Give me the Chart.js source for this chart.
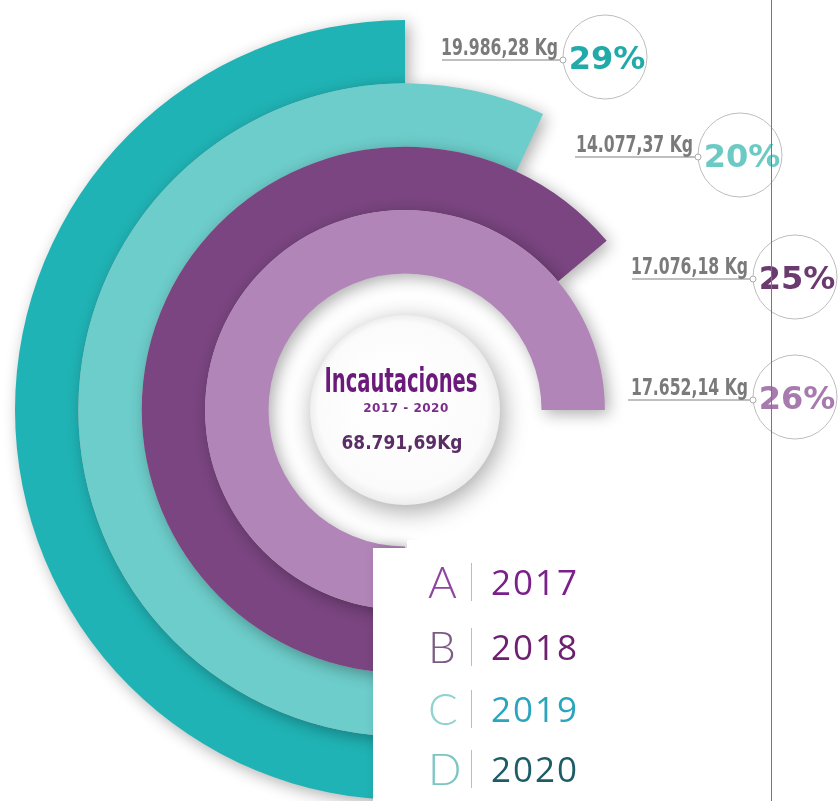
<!DOCTYPE html>
<html>
<head>
<meta charset="utf-8">
<title>Incautaciones 2017 - 2020</title>
<script src="https://cdn.jsdelivr.net/npm/chart.js@4/dist/chart.umd.min.js"></script>
<style>
    html, body { margin: 0; padding: 0; background: #fff; }
    #wrap { width: 838px; height: 801px; position: relative; }
</style>
</head>
<body>
<div id="wrap"><canvas id="rings" width="838" height="801"></canvas></div>
<script>
// Radial rings: one ring per year, outermost = 2020

const years = ['2017', '2018', '2019', '2020'];
const letters = ['A', 'B', 'C', 'D'];
const kilograms = [17652.14, 17076.18, 14077.37, 19986.28];
const ringSweep = [270, 230, 205, 180];   // degrees each ring covers
const totalLabel = '68.791,69Kg';
const titleLabel = 'Incautaciones';
const periodLabel = '2017 - 2020';

const ringColors = ['#b285b9', '#7a4580', '#6dcdca', '#20b3b5'];
const percentColors = ['#a77bae', '#6b3a6e', '#6ccac4', '#20aaa8'];
const letterColors = ['#8e44a0', '#7d5a84', '#8fd3cf', '#7cc5c2'];
const yearColors = ['#7b1f8a', '#6e2070', '#2ba5bd', '#1d5c66'];

// label layout, per year (line y, line start x, bubble centre)
const LABEL_POS = [
    { lineY: 400, lineX: 628, cx: 795, cy: 397 },
    { lineY: 279, lineX: 632, cx: 795, cy: 277 },
    { lineY: 157, lineX: 575, cx: 740, cy: 155 },
    { lineY: 60, lineX: 442, cx: 605, cy: 57 }
];
const LEGEND_ROWS = [583, 648, 710, 770];

function formatKg(v) {
    const parts = v.toFixed(2).split('.');
    const whole = parts[0].replace(/\B(?=(\d{3})+(?!\d))/g, '.');
    return whole + ',' + parts[1] + ' Kg';
}

const total = kilograms.reduce((a, b) => a + b, 0);
const percents = kilograms.map(v => Math.round(v / total * 100) + '%');

// datasets go outer -> inner, so reverse the year order
const datasets = [];
for (let i = years.length - 1; i >= 0; i--) {
    datasets.push({
        label: years[i],
        data: [ringSweep[i], 360 - ringSweep[i]],
        backgroundColor: [ringColors[i], 'rgba(0,0,0,0)'],
        borderWidth: 0,
        clip: false,
        order: i          // outer rings get drawn first
    });
}

function fitText(ctx, text, x, y, width, align) {
    const w = ctx.measureText(text).width;
    const s = Math.min(1, width / w);
    ctx.save();
    ctx.translate(x, y);
    ctx.scale(s, 1);
    ctx.textAlign = align;
    ctx.fillText(text, 0, 0);
    ctx.restore();
}

const ringShadow = {
    id: 'ringShadow',
    beforeDatasetDraw(chart) {
        const ctx = chart.ctx;
        ctx.save();
        ctx.shadowColor = 'rgba(0,0,0,0.32)';
        ctx.shadowBlur = 16;
        ctx.shadowOffsetX = 4;
        ctx.shadowOffsetY = 4;
    },
    afterDatasetDraw(chart) {
        chart.ctx.restore();
    }
};

const decorations = {
    id: 'decorations',
    afterDatasetsDraw(chart) {
        const ctx = chart.ctx;
        const meta = chart.getDatasetMeta(0);
        const arc = meta.data[0];
        const cx = arc.x, cy = arc.y;

        // centre disc
        ctx.save();
        ctx.shadowColor = 'rgba(0,0,0,0.35)';
        ctx.shadowBlur = 24;
        ctx.shadowOffsetX = 3;
        ctx.shadowOffsetY = 6;
        const grad = ctx.createRadialGradient(cx - 15, cy - 20, 20, cx, cy, 96);
        grad.addColorStop(0, '#ffffff');
        grad.addColorStop(0.85, '#fbfbfb');
        grad.addColorStop(1, '#ececec');
        ctx.fillStyle = grad;
        ctx.beginPath();
        ctx.arc(cx, cy, 95, 0, Math.PI * 2);
        ctx.fill();
        ctx.restore();

        ctx.save();
        ctx.fillStyle = '#6b1a7c';
        ctx.font = "bold 34px 'DejaVu Sans Condensed', 'DejaVu Sans'";
        ctx.textBaseline = 'alphabetic';
        fitText(ctx, titleLabel, cx - 4, cy - 18, 153, 'center');
        ctx.fillStyle = '#7b2d8b';
        ctx.font = "bold 12px 'DejaVu Sans'";
        ctx.letterSpacing = '0.5px';
        fitText(ctx, periodLabel, cx + 1, cy + 2, 86, 'center');
        ctx.letterSpacing = '0px';
        ctx.fillStyle = '#5b2d66';
        ctx.font = "bold 19px 'DejaVu Sans'";
        fitText(ctx, totalLabel, cx - 3, cy + 39, 121, 'center');
        ctx.restore();

        // white panel behind the legend
        ctx.save();
        ctx.shadowColor = 'rgba(0,0,0,0.25)';
        ctx.shadowBlur = 14;
        ctx.shadowOffsetX = 6;
        ctx.fillStyle = '#fff';
        ctx.fillRect(373, 548, 34, 260);
        ctx.restore();
        ctx.fillStyle = '#fff';
        ctx.fillRect(407, 540, 360, 261);

        // legend rows
        ctx.save();
        years.forEach((y, i) => {
            const ry = LEGEND_ROWS[i];
            ctx.fillStyle = letterColors[i];
            ctx.font = "300 44px Lato";
            ctx.textAlign = 'left';
            ctx.fillText(letters[i], 428, ry + 15);
            ctx.strokeStyle = '#bdbdbd';
            ctx.lineWidth = 1;
            ctx.beginPath();
            ctx.moveTo(471.5, ry - 20);
            ctx.lineTo(471.5, ry + 18);
            ctx.stroke();
            ctx.fillStyle = yearColors[i];
            ctx.font = "35px 'Open Sans'";
            ctx.letterSpacing = '2px';
            ctx.fillText(y, 491, ry + 12);
            ctx.letterSpacing = '0px';
        });
        ctx.restore();

        // value labels with bubbles
        ctx.save();
        years.forEach((y, i) => {
            const p = LABEL_POS[i];
            const nodeX = p.cx - 42;
            ctx.strokeStyle = '#aaaaaa';
            ctx.lineWidth = 1.5;
            ctx.beginPath();
            ctx.moveTo(p.lineX, p.lineY);
            ctx.lineTo(nodeX, p.lineY);
            ctx.stroke();

            ctx.fillStyle = '#7a7a7a';
            ctx.font = "bold 23px 'DejaVu Sans Condensed', 'DejaVu Sans'";
            fitText(ctx, formatKg(kilograms[i]), nodeX - 5, p.lineY - 5, 117, 'right');

            ctx.strokeStyle = '#bdbdbd';
            ctx.lineWidth = 1;
            ctx.beginPath();
            ctx.arc(p.cx, p.cy, 42, 0, Math.PI * 2);
            ctx.stroke();

            ctx.fillStyle = '#fff';
            ctx.strokeStyle = '#aaaaaa';
            ctx.beginPath();
            ctx.arc(nodeX, p.lineY, 3, 0, Math.PI * 2);
            ctx.fill();
            ctx.stroke();

            ctx.fillStyle = percentColors[i];
            ctx.font = "bold 32px 'DejaVu Sans'";
            ctx.textAlign = 'center';
            ctx.fillText(percents[i], p.cx + 2, p.cy + 12);
        });
        ctx.restore();

        // guide line
        ctx.save();
        ctx.strokeStyle = '#2f86e8';
        ctx.lineWidth = 1;
        ctx.beginPath();
        ctx.moveTo(771.5, 0);
        ctx.lineTo(771.5, 801);
        ctx.stroke();
        ctx.restore();
    }
};

new Chart(document.getElementById('rings'), {
    type: 'doughnut',
    data: {
        labels: ['valor', 'resto'],
        datasets: datasets
    },
    options: {
        responsive: false,
        animation: false,
        events: [],
        rotation: 180,
        circumference: 360,
        cutout: '35%',
        layout: {
            padding: { left: 15, right: 43, top: 20, bottom: 1 }
        },
        plugins: {
            legend: { display: false },
            tooltip: { enabled: false },
            title: { display: false }
        }
    },
    plugins: [ringShadow, decorations]
});
</script>
</body>
</html>
